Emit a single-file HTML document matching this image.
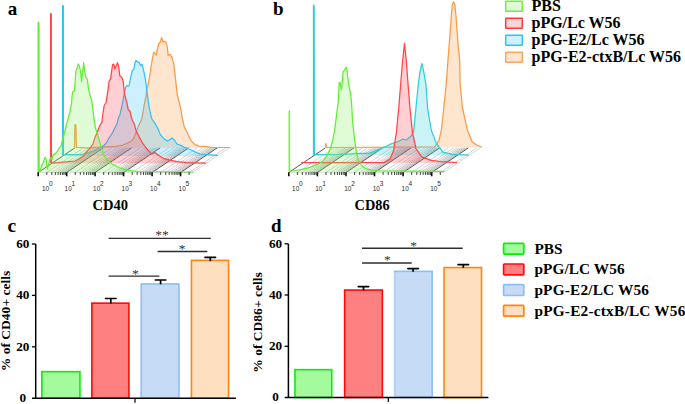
<!DOCTYPE html><html><head><meta charset="utf-8"><style>html,body{margin:0;padding:0;background:#fff;}svg{display:block;}</style></head><body>
<svg width="685" height="404" viewBox="0 0 685 404">
<rect width="685" height="404" fill="#fff"/>
<polygon points="38.2,172.5 192.5,172.5 229.1,147.9 74.8,147.9" fill="#ffffff" stroke="none"/>
<line x1="38.2" y1="172.5" x2="74.8" y2="147.9" stroke="#444" stroke-width="0.9"/>
<line x1="46.8" y1="172.5" x2="83.4" y2="147.9" stroke="#bdbdbd" stroke-width="0.7"/>
<line x1="51.8" y1="172.5" x2="88.4" y2="147.9" stroke="#bdbdbd" stroke-width="0.7"/>
<line x1="55.3" y1="172.5" x2="91.9" y2="147.9" stroke="#bdbdbd" stroke-width="0.7"/>
<line x1="58.1" y1="172.5" x2="94.7" y2="147.9" stroke="#a8a8a8" stroke-width="0.7"/>
<line x1="60.4" y1="172.5" x2="97.0" y2="147.9" stroke="#a8a8a8" stroke-width="0.7"/>
<line x1="62.3" y1="172.5" x2="98.9" y2="147.9" stroke="#a8a8a8" stroke-width="0.7"/>
<line x1="63.9" y1="172.5" x2="100.5" y2="147.9" stroke="#a8a8a8" stroke-width="0.7"/>
<line x1="65.4" y1="172.5" x2="102.0" y2="147.9" stroke="#a8a8a8" stroke-width="0.7"/>
<line x1="66.7" y1="172.5" x2="103.3" y2="147.9" stroke="#444" stroke-width="0.9"/>
<line x1="75.2" y1="172.5" x2="111.8" y2="147.9" stroke="#bdbdbd" stroke-width="0.7"/>
<line x1="80.3" y1="172.5" x2="116.9" y2="147.9" stroke="#bdbdbd" stroke-width="0.7"/>
<line x1="83.8" y1="172.5" x2="120.4" y2="147.9" stroke="#bdbdbd" stroke-width="0.7"/>
<line x1="86.6" y1="172.5" x2="123.2" y2="147.9" stroke="#a8a8a8" stroke-width="0.7"/>
<line x1="88.8" y1="172.5" x2="125.4" y2="147.9" stroke="#a8a8a8" stroke-width="0.7"/>
<line x1="90.7" y1="172.5" x2="127.3" y2="147.9" stroke="#a8a8a8" stroke-width="0.7"/>
<line x1="92.4" y1="172.5" x2="129.0" y2="147.9" stroke="#a8a8a8" stroke-width="0.7"/>
<line x1="93.8" y1="172.5" x2="130.4" y2="147.9" stroke="#a8a8a8" stroke-width="0.7"/>
<line x1="95.1" y1="172.5" x2="131.7" y2="147.9" stroke="#444" stroke-width="0.9"/>
<line x1="103.7" y1="172.5" x2="140.3" y2="147.9" stroke="#bdbdbd" stroke-width="0.7"/>
<line x1="108.7" y1="172.5" x2="145.3" y2="147.9" stroke="#bdbdbd" stroke-width="0.7"/>
<line x1="112.3" y1="172.5" x2="148.9" y2="147.9" stroke="#bdbdbd" stroke-width="0.7"/>
<line x1="115.0" y1="172.5" x2="151.6" y2="147.9" stroke="#a8a8a8" stroke-width="0.7"/>
<line x1="117.3" y1="172.5" x2="153.9" y2="147.9" stroke="#a8a8a8" stroke-width="0.7"/>
<line x1="119.2" y1="172.5" x2="155.8" y2="147.9" stroke="#a8a8a8" stroke-width="0.7"/>
<line x1="120.9" y1="172.5" x2="157.5" y2="147.9" stroke="#a8a8a8" stroke-width="0.7"/>
<line x1="122.3" y1="172.5" x2="158.9" y2="147.9" stroke="#a8a8a8" stroke-width="0.7"/>
<line x1="123.6" y1="172.5" x2="160.2" y2="147.9" stroke="#444" stroke-width="0.9"/>
<line x1="132.2" y1="172.5" x2="168.8" y2="147.9" stroke="#bdbdbd" stroke-width="0.7"/>
<line x1="137.2" y1="172.5" x2="173.8" y2="147.9" stroke="#bdbdbd" stroke-width="0.7"/>
<line x1="140.8" y1="172.5" x2="177.4" y2="147.9" stroke="#bdbdbd" stroke-width="0.7"/>
<line x1="143.5" y1="172.5" x2="180.1" y2="147.9" stroke="#a8a8a8" stroke-width="0.7"/>
<line x1="145.8" y1="172.5" x2="182.4" y2="147.9" stroke="#a8a8a8" stroke-width="0.7"/>
<line x1="147.7" y1="172.5" x2="184.3" y2="147.9" stroke="#a8a8a8" stroke-width="0.7"/>
<line x1="149.3" y1="172.5" x2="185.9" y2="147.9" stroke="#a8a8a8" stroke-width="0.7"/>
<line x1="150.8" y1="172.5" x2="187.4" y2="147.9" stroke="#a8a8a8" stroke-width="0.7"/>
<line x1="152.1" y1="172.5" x2="188.7" y2="147.9" stroke="#444" stroke-width="0.9"/>
<line x1="160.7" y1="172.5" x2="197.3" y2="147.9" stroke="#bdbdbd" stroke-width="0.7"/>
<line x1="165.7" y1="172.5" x2="202.3" y2="147.9" stroke="#bdbdbd" stroke-width="0.7"/>
<line x1="169.2" y1="172.5" x2="205.8" y2="147.9" stroke="#bdbdbd" stroke-width="0.7"/>
<line x1="172.0" y1="172.5" x2="208.6" y2="147.9" stroke="#a8a8a8" stroke-width="0.7"/>
<line x1="174.2" y1="172.5" x2="210.8" y2="147.9" stroke="#a8a8a8" stroke-width="0.7"/>
<line x1="176.1" y1="172.5" x2="212.7" y2="147.9" stroke="#a8a8a8" stroke-width="0.7"/>
<line x1="177.8" y1="172.5" x2="214.4" y2="147.9" stroke="#a8a8a8" stroke-width="0.7"/>
<line x1="179.2" y1="172.5" x2="215.8" y2="147.9" stroke="#a8a8a8" stroke-width="0.7"/>
<line x1="180.6" y1="172.5" x2="217.2" y2="147.9" stroke="#444" stroke-width="0.9"/>
<line x1="189.1" y1="172.5" x2="225.7" y2="147.9" stroke="#bdbdbd" stroke-width="0.7"/>
<line x1="192.5" y1="172.5" x2="229.1" y2="147.9" stroke="#bbb" stroke-width="0.6"/>
<polygon points="74.5,147.6 74.9,124.5 75.9,125.5 76.5,147.4 88.0,147.9 115.8,146.4 120.0,145.7 123.0,145.0 127.4,143.2 131.1,141.3 134.1,137.5 136.3,131.6 138.6,125.7 141.5,119.7 143.0,112.3 144.5,103.4 146.0,95.9 146.6,90.0 147.8,85.9 149.7,76.0 151.2,66.0 152.5,58.0 153.8,52.2 156.1,55.1 157.8,47.3 159.0,43.0 160.4,42.1 161.6,37.3 163.0,42.1 164.2,41.3 165.9,41.8 167.3,47.3 168.2,55.6 169.9,54.3 172.2,57.7 173.9,64.7 175.1,75.1 176.5,88.0 177.3,95.0 179.1,101.9 180.8,108.9 182.2,117.5 184.3,127.0 186.3,130.5 188.6,135.7 191.2,140.9 194.6,144.4 199.0,146.1 206.8,146.6 210.2,147.3 230.2,147.5 230.2,147.9 74.5,147.9" fill="rgba(252,160,80,0.28)" stroke="none"/>
<polyline points="74.5,147.6 74.9,124.5 75.9,125.5 76.5,147.4 88.0,147.9 115.8,146.4 120.0,145.7 123.0,145.0 127.4,143.2 131.1,141.3 134.1,137.5 136.3,131.6 138.6,125.7 141.5,119.7 143.0,112.3 144.5,103.4 146.0,95.9 146.6,90.0 147.8,85.9 149.7,76.0 151.2,66.0 152.5,58.0 153.8,52.2 156.1,55.1 157.8,47.3 159.0,43.0 160.4,42.1 161.6,37.3 163.0,42.1 164.2,41.3 165.9,41.8 167.3,47.3 168.2,55.6 169.9,54.3 172.2,57.7 173.9,64.7 175.1,75.1 176.5,88.0 177.3,95.0 179.1,101.9 180.8,108.9 182.2,117.5 184.3,127.0 186.3,130.5 188.6,135.7 191.2,140.9 194.6,144.4 199.0,146.1 206.8,146.6 210.2,147.3 230.2,147.5" fill="none" stroke="#fa9a46" stroke-width="1.25" stroke-linejoin="round"/>
<polygon points="62.7,155.2 62.7,5.3 63.4,154.6 73.0,154.6 80.0,154.6 83.4,154.0 88.0,152.9 93.6,151.0 99.1,148.3 103.8,145.5 106.6,142.7 108.4,139.0 110.3,136.2 112.1,133.4 114.9,127.8 116.8,124.1 118.6,117.5 120.0,114.5 121.5,107.8 123.0,100.4 124.5,92.0 125.5,88.0 126.5,85.5 127.9,86.2 129.0,85.9 130.5,78.5 132.3,70.4 133.9,69.2 134.8,63.6 136.0,60.5 137.3,61.8 139.1,62.4 140.4,65.5 141.9,64.2 142.9,67.3 144.1,72.9 145.3,78.5 146.6,88.4 147.5,95.5 149.0,106.3 150.5,113.8 151.9,119.0 154.7,122.8 157.9,128.6 160.5,135.0 163.4,137.9 167.1,141.0 168.9,140.3 172.0,137.9 174.5,140.3 177.0,144.0 180.7,145.3 184.4,147.4 189.3,149.0 194.3,151.5 200.0,154.0 210.2,154.8 218.0,155.3 218.0,155.9 62.7,155.9" fill="rgba(51,195,251,0.25)" stroke="none"/>
<polyline points="62.7,155.2 62.7,5.3 63.4,154.6 73.0,154.6 80.0,154.6 83.4,154.0 88.0,152.9 93.6,151.0 99.1,148.3 103.8,145.5 106.6,142.7 108.4,139.0 110.3,136.2 112.1,133.4 114.9,127.8 116.8,124.1 118.6,117.5 120.0,114.5 121.5,107.8 123.0,100.4 124.5,92.0 125.5,88.0 126.5,85.5 127.9,86.2 129.0,85.9 130.5,78.5 132.3,70.4 133.9,69.2 134.8,63.6 136.0,60.5 137.3,61.8 139.1,62.4 140.4,65.5 141.9,64.2 142.9,67.3 144.1,72.9 145.3,78.5 146.6,88.4 147.5,95.5 149.0,106.3 150.5,113.8 151.9,119.0 154.7,122.8 157.9,128.6 160.5,135.0 163.4,137.9 167.1,141.0 168.9,140.3 172.0,137.9 174.5,140.3 177.0,144.0 180.7,145.3 184.4,147.4 189.3,149.0 194.3,151.5 200.0,154.0 210.2,154.8 218.0,155.3" fill="none" stroke="#2cc4fa" stroke-width="1.25" stroke-linejoin="round"/>
<line x1="63" y1="155" x2="63" y2="5.6" stroke="#2cc4fa" stroke-width="1.9"/>
<polygon points="50.8,163.1 50.8,13.4 51.5,163.0 54.0,163.1 60.5,162.3 68.7,161.6 75.2,161.0 80.0,158.5 83.4,155.8 86.0,152.5 88.0,150.1 89.9,148.3 92.6,144.6 95.1,137.1 97.3,132.5 99.5,126.0 101.9,122.3 102.7,115.0 104.2,105.5 106.1,102.5 107.9,90.7 109.1,81.0 110.6,78.8 111.6,71.3 112.6,64.7 113.8,64.2 114.9,69.1 116.1,66.1 117.5,62.7 118.6,66.1 119.8,75.8 121.6,77.3 123.0,80.3 124.2,90.7 125.2,97.0 126.7,101.9 128.2,109.3 130.1,111.5 131.1,116.0 132.6,121.2 134.1,123.4 136.2,131.1 139.3,137.0 142.4,142.8 145.5,147.0 148.5,150.8 151.6,153.9 153.5,153.2 155.3,152.7 158.4,155.2 163.4,158.3 169.6,160.1 177.0,161.7 186.9,162.6 205.9,163.2 205.9,163.3 50.8,163.3" fill="rgba(255,70,90,0.26)" stroke="none"/>
<polyline points="50.8,163.1 50.8,13.4 51.5,163.0 54.0,163.1 60.5,162.3 68.7,161.6 75.2,161.0 80.0,158.5 83.4,155.8 86.0,152.5 88.0,150.1 89.9,148.3 92.6,144.6 95.1,137.1 97.3,132.5 99.5,126.0 101.9,122.3 102.7,115.0 104.2,105.5 106.1,102.5 107.9,90.7 109.1,81.0 110.6,78.8 111.6,71.3 112.6,64.7 113.8,64.2 114.9,69.1 116.1,66.1 117.5,62.7 118.6,66.1 119.8,75.8 121.6,77.3 123.0,80.3 124.2,90.7 125.2,97.0 126.7,101.9 128.2,109.3 130.1,111.5 131.1,116.0 132.6,121.2 134.1,123.4 136.2,131.1 139.3,137.0 142.4,142.8 145.5,147.0 148.5,150.8 151.6,153.9 153.5,153.2 155.3,152.7 158.4,155.2 163.4,158.3 169.6,160.1 177.0,161.7 186.9,162.6 205.9,163.2" fill="none" stroke="#ff4646" stroke-width="1.25" stroke-linejoin="round"/>
<line x1="50.9" y1="163" x2="50.9" y2="13.7" stroke="#ff4646" stroke-width="1.9"/>
<polygon points="38.4,172.3 38.4,22.0 38.9,170.5 40.1,170.5 41.7,165.6 43.4,162.3 45.0,157.4 46.1,159.0 47.4,168.8 48.7,163.9 50.4,157.4 52.0,159.0 53.2,154.9 54.8,154.1 56.4,152.5 58.1,150.0 59.7,147.6 61.3,145.1 62.5,139.4 64.1,134.5 65.7,128.0 67.4,121.4 68.7,116.5 70.3,110.0 71.3,105.0 72.5,92.1 74.4,90.9 75.0,83.5 75.9,71.1 77.1,68.0 78.3,63.9 79.6,66.8 80.6,72.3 81.6,81.6 82.7,71.1 83.7,62.7 84.5,69.9 85.8,77.3 87.4,79.8 88.6,89.7 90.7,97.7 91.7,100.0 93.6,114.9 95.4,127.8 98.2,137.1 101.0,146.4 103.2,153.8 106.6,159.4 112.1,164.0 119.6,167.8 127.9,170.2 138.0,171.5 193.5,172.2 193.5,172.4 38.4,172.4" fill="rgba(131,243,91,0.25)" stroke="none"/>
<polyline points="38.4,172.3 38.4,22.0 38.9,170.5 40.1,170.5 41.7,165.6 43.4,162.3 45.0,157.4 46.1,159.0 47.4,168.8 48.7,163.9 50.4,157.4 52.0,159.0 53.2,154.9 54.8,154.1 56.4,152.5 58.1,150.0 59.7,147.6 61.3,145.1 62.5,139.4 64.1,134.5 65.7,128.0 67.4,121.4 68.7,116.5 70.3,110.0 71.3,105.0 72.5,92.1 74.4,90.9 75.0,83.5 75.9,71.1 77.1,68.0 78.3,63.9 79.6,66.8 80.6,72.3 81.6,81.6 82.7,71.1 83.7,62.7 84.5,69.9 85.8,77.3 87.4,79.8 88.6,89.7 90.7,97.7 91.7,100.0 93.6,114.9 95.4,127.8 98.2,137.1 101.0,146.4 103.2,153.8 106.6,159.4 112.1,164.0 119.6,167.8 127.9,170.2 138.0,171.5 193.5,172.2" fill="none" stroke="#62ee34" stroke-width="1.25" stroke-linejoin="round"/>
<line x1="38.6" y1="172" x2="38.6" y2="22.3" stroke="#62ee34" stroke-width="1.9"/>
<line x1="37.7" y1="172.7" x2="192.5" y2="172.7" stroke="#bbb" stroke-width="0.5"/>
<line x1="38.2" y1="172.2" x2="38.2" y2="176.3" stroke="#111" stroke-width="1.6"/>
<line x1="46.8" y1="172.2" x2="46.8" y2="174.9" stroke="#222" stroke-width="0.9"/>
<line x1="51.8" y1="172.2" x2="51.8" y2="174.9" stroke="#222" stroke-width="0.9"/>
<line x1="55.3" y1="172.2" x2="55.3" y2="174.9" stroke="#222" stroke-width="0.9"/>
<line x1="58.1" y1="172.2" x2="58.1" y2="174.9" stroke="#222" stroke-width="0.9"/>
<line x1="60.4" y1="172.2" x2="60.4" y2="174.9" stroke="#222" stroke-width="0.9"/>
<line x1="62.3" y1="172.2" x2="62.3" y2="174.9" stroke="#222" stroke-width="0.9"/>
<line x1="63.9" y1="172.2" x2="63.9" y2="174.9" stroke="#222" stroke-width="0.9"/>
<line x1="65.4" y1="172.2" x2="65.4" y2="174.9" stroke="#222" stroke-width="0.9"/>
<line x1="66.7" y1="172.2" x2="66.7" y2="176.3" stroke="#111" stroke-width="1.6"/>
<line x1="75.2" y1="172.2" x2="75.2" y2="174.9" stroke="#222" stroke-width="0.9"/>
<line x1="80.3" y1="172.2" x2="80.3" y2="174.9" stroke="#222" stroke-width="0.9"/>
<line x1="83.8" y1="172.2" x2="83.8" y2="174.9" stroke="#222" stroke-width="0.9"/>
<line x1="86.6" y1="172.2" x2="86.6" y2="174.9" stroke="#222" stroke-width="0.9"/>
<line x1="88.8" y1="172.2" x2="88.8" y2="174.9" stroke="#222" stroke-width="0.9"/>
<line x1="90.7" y1="172.2" x2="90.7" y2="174.9" stroke="#222" stroke-width="0.9"/>
<line x1="92.4" y1="172.2" x2="92.4" y2="174.9" stroke="#222" stroke-width="0.9"/>
<line x1="93.8" y1="172.2" x2="93.8" y2="174.9" stroke="#222" stroke-width="0.9"/>
<line x1="95.1" y1="172.2" x2="95.1" y2="176.3" stroke="#111" stroke-width="1.6"/>
<line x1="103.7" y1="172.2" x2="103.7" y2="174.9" stroke="#222" stroke-width="0.9"/>
<line x1="108.7" y1="172.2" x2="108.7" y2="174.9" stroke="#222" stroke-width="0.9"/>
<line x1="112.3" y1="172.2" x2="112.3" y2="174.9" stroke="#222" stroke-width="0.9"/>
<line x1="115.0" y1="172.2" x2="115.0" y2="174.9" stroke="#222" stroke-width="0.9"/>
<line x1="117.3" y1="172.2" x2="117.3" y2="174.9" stroke="#222" stroke-width="0.9"/>
<line x1="119.2" y1="172.2" x2="119.2" y2="174.9" stroke="#222" stroke-width="0.9"/>
<line x1="120.9" y1="172.2" x2="120.9" y2="174.9" stroke="#222" stroke-width="0.9"/>
<line x1="122.3" y1="172.2" x2="122.3" y2="174.9" stroke="#222" stroke-width="0.9"/>
<line x1="123.6" y1="172.2" x2="123.6" y2="176.3" stroke="#111" stroke-width="1.6"/>
<line x1="132.2" y1="172.2" x2="132.2" y2="174.9" stroke="#222" stroke-width="0.9"/>
<line x1="137.2" y1="172.2" x2="137.2" y2="174.9" stroke="#222" stroke-width="0.9"/>
<line x1="140.8" y1="172.2" x2="140.8" y2="174.9" stroke="#222" stroke-width="0.9"/>
<line x1="143.5" y1="172.2" x2="143.5" y2="174.9" stroke="#222" stroke-width="0.9"/>
<line x1="145.8" y1="172.2" x2="145.8" y2="174.9" stroke="#222" stroke-width="0.9"/>
<line x1="147.7" y1="172.2" x2="147.7" y2="174.9" stroke="#222" stroke-width="0.9"/>
<line x1="149.3" y1="172.2" x2="149.3" y2="174.9" stroke="#222" stroke-width="0.9"/>
<line x1="150.8" y1="172.2" x2="150.8" y2="174.9" stroke="#222" stroke-width="0.9"/>
<line x1="152.1" y1="172.2" x2="152.1" y2="176.3" stroke="#111" stroke-width="1.6"/>
<line x1="160.7" y1="172.2" x2="160.7" y2="174.9" stroke="#222" stroke-width="0.9"/>
<line x1="165.7" y1="172.2" x2="165.7" y2="174.9" stroke="#222" stroke-width="0.9"/>
<line x1="169.2" y1="172.2" x2="169.2" y2="174.9" stroke="#222" stroke-width="0.9"/>
<line x1="172.0" y1="172.2" x2="172.0" y2="174.9" stroke="#222" stroke-width="0.9"/>
<line x1="174.2" y1="172.2" x2="174.2" y2="174.9" stroke="#222" stroke-width="0.9"/>
<line x1="176.1" y1="172.2" x2="176.1" y2="174.9" stroke="#222" stroke-width="0.9"/>
<line x1="177.8" y1="172.2" x2="177.8" y2="174.9" stroke="#222" stroke-width="0.9"/>
<line x1="179.2" y1="172.2" x2="179.2" y2="174.9" stroke="#222" stroke-width="0.9"/>
<line x1="180.6" y1="172.2" x2="180.6" y2="176.3" stroke="#111" stroke-width="1.6"/>
<line x1="189.1" y1="172.2" x2="189.1" y2="174.9" stroke="#222" stroke-width="0.9"/>
<text x="42.0" y="190.6" font-family="Liberation Sans" font-size="6.4" fill="#2a2a2a">10<tspan dy="-4.8" dx="-0.1" font-size="6.5">0</tspan></text>
<text x="64.6" y="190.6" font-family="Liberation Sans" font-size="6.4" fill="#2a2a2a">10<tspan dy="-4.8" dx="-0.1" font-size="6.5">1</tspan></text>
<text x="93.1" y="190.6" font-family="Liberation Sans" font-size="6.4" fill="#2a2a2a">10<tspan dy="-4.8" dx="-0.1" font-size="6.5">2</tspan></text>
<text x="121.6" y="190.6" font-family="Liberation Sans" font-size="6.4" fill="#2a2a2a">10<tspan dy="-4.8" dx="-0.1" font-size="6.5">3</tspan></text>
<text x="150.1" y="190.6" font-family="Liberation Sans" font-size="6.4" fill="#2a2a2a">10<tspan dy="-4.8" dx="-0.1" font-size="6.5">4</tspan></text>
<text x="178.6" y="190.6" font-family="Liberation Sans" font-size="6.4" fill="#2a2a2a">10<tspan dy="-4.8" dx="-0.1" font-size="6.5">5</tspan></text>
<text x="92.5" y="210" font-family="Liberation Serif" font-weight="bold" font-size="15" textLength="35.6" lengthAdjust="spacingAndGlyphs" fill="#000">CD40</text>
<text x="7.7" y="15" font-family="Liberation Serif" font-weight="bold" font-size="19" fill="#000">a</text>
<polygon points="288.8,172.5 443.6,172.5 480.2,147.9 325.4,147.9" fill="#ffffff" stroke="none"/>
<line x1="288.8" y1="172.5" x2="325.4" y2="147.9" stroke="#444" stroke-width="0.9"/>
<line x1="297.4" y1="172.5" x2="334.0" y2="147.9" stroke="#bdbdbd" stroke-width="0.7"/>
<line x1="302.4" y1="172.5" x2="339.0" y2="147.9" stroke="#bdbdbd" stroke-width="0.7"/>
<line x1="306.0" y1="172.5" x2="342.6" y2="147.9" stroke="#bdbdbd" stroke-width="0.7"/>
<line x1="308.8" y1="172.5" x2="345.4" y2="147.9" stroke="#a8a8a8" stroke-width="0.7"/>
<line x1="311.0" y1="172.5" x2="347.6" y2="147.9" stroke="#a8a8a8" stroke-width="0.7"/>
<line x1="313.0" y1="172.5" x2="349.6" y2="147.9" stroke="#a8a8a8" stroke-width="0.7"/>
<line x1="314.6" y1="172.5" x2="351.2" y2="147.9" stroke="#a8a8a8" stroke-width="0.7"/>
<line x1="316.1" y1="172.5" x2="352.7" y2="147.9" stroke="#a8a8a8" stroke-width="0.7"/>
<line x1="317.4" y1="172.5" x2="354.0" y2="147.9" stroke="#444" stroke-width="0.9"/>
<line x1="326.0" y1="172.5" x2="362.6" y2="147.9" stroke="#bdbdbd" stroke-width="0.7"/>
<line x1="331.0" y1="172.5" x2="367.6" y2="147.9" stroke="#bdbdbd" stroke-width="0.7"/>
<line x1="334.6" y1="172.5" x2="371.2" y2="147.9" stroke="#bdbdbd" stroke-width="0.7"/>
<line x1="337.4" y1="172.5" x2="374.0" y2="147.9" stroke="#a8a8a8" stroke-width="0.7"/>
<line x1="339.6" y1="172.5" x2="376.2" y2="147.9" stroke="#a8a8a8" stroke-width="0.7"/>
<line x1="341.5" y1="172.5" x2="378.1" y2="147.9" stroke="#a8a8a8" stroke-width="0.7"/>
<line x1="343.2" y1="172.5" x2="379.8" y2="147.9" stroke="#a8a8a8" stroke-width="0.7"/>
<line x1="344.7" y1="172.5" x2="381.3" y2="147.9" stroke="#a8a8a8" stroke-width="0.7"/>
<line x1="346.0" y1="172.5" x2="382.6" y2="147.9" stroke="#444" stroke-width="0.9"/>
<line x1="354.6" y1="172.5" x2="391.2" y2="147.9" stroke="#bdbdbd" stroke-width="0.7"/>
<line x1="359.6" y1="172.5" x2="396.2" y2="147.9" stroke="#bdbdbd" stroke-width="0.7"/>
<line x1="363.2" y1="172.5" x2="399.8" y2="147.9" stroke="#bdbdbd" stroke-width="0.7"/>
<line x1="365.9" y1="172.5" x2="402.5" y2="147.9" stroke="#a8a8a8" stroke-width="0.7"/>
<line x1="368.2" y1="172.5" x2="404.8" y2="147.9" stroke="#a8a8a8" stroke-width="0.7"/>
<line x1="370.1" y1="172.5" x2="406.7" y2="147.9" stroke="#a8a8a8" stroke-width="0.7"/>
<line x1="371.8" y1="172.5" x2="408.4" y2="147.9" stroke="#a8a8a8" stroke-width="0.7"/>
<line x1="373.2" y1="172.5" x2="409.8" y2="147.9" stroke="#a8a8a8" stroke-width="0.7"/>
<line x1="374.5" y1="172.5" x2="411.1" y2="147.9" stroke="#444" stroke-width="0.9"/>
<line x1="383.1" y1="172.5" x2="419.7" y2="147.9" stroke="#bdbdbd" stroke-width="0.7"/>
<line x1="388.2" y1="172.5" x2="424.8" y2="147.9" stroke="#bdbdbd" stroke-width="0.7"/>
<line x1="391.7" y1="172.5" x2="428.3" y2="147.9" stroke="#bdbdbd" stroke-width="0.7"/>
<line x1="394.5" y1="172.5" x2="431.1" y2="147.9" stroke="#a8a8a8" stroke-width="0.7"/>
<line x1="396.8" y1="172.5" x2="433.4" y2="147.9" stroke="#a8a8a8" stroke-width="0.7"/>
<line x1="398.7" y1="172.5" x2="435.3" y2="147.9" stroke="#a8a8a8" stroke-width="0.7"/>
<line x1="400.4" y1="172.5" x2="437.0" y2="147.9" stroke="#a8a8a8" stroke-width="0.7"/>
<line x1="401.8" y1="172.5" x2="438.4" y2="147.9" stroke="#a8a8a8" stroke-width="0.7"/>
<line x1="403.1" y1="172.5" x2="439.7" y2="147.9" stroke="#444" stroke-width="0.9"/>
<line x1="411.7" y1="172.5" x2="448.3" y2="147.9" stroke="#bdbdbd" stroke-width="0.7"/>
<line x1="416.8" y1="172.5" x2="453.4" y2="147.9" stroke="#bdbdbd" stroke-width="0.7"/>
<line x1="420.3" y1="172.5" x2="456.9" y2="147.9" stroke="#bdbdbd" stroke-width="0.7"/>
<line x1="423.1" y1="172.5" x2="459.7" y2="147.9" stroke="#a8a8a8" stroke-width="0.7"/>
<line x1="425.4" y1="172.5" x2="462.0" y2="147.9" stroke="#a8a8a8" stroke-width="0.7"/>
<line x1="427.3" y1="172.5" x2="463.9" y2="147.9" stroke="#a8a8a8" stroke-width="0.7"/>
<line x1="428.9" y1="172.5" x2="465.5" y2="147.9" stroke="#a8a8a8" stroke-width="0.7"/>
<line x1="430.4" y1="172.5" x2="467.0" y2="147.9" stroke="#a8a8a8" stroke-width="0.7"/>
<line x1="431.7" y1="172.5" x2="468.3" y2="147.9" stroke="#444" stroke-width="0.9"/>
<line x1="440.3" y1="172.5" x2="476.9" y2="147.9" stroke="#bdbdbd" stroke-width="0.7"/>
<line x1="443.6" y1="172.5" x2="480.2" y2="147.9" stroke="#bbb" stroke-width="0.6"/>
<polygon points="325.7,147.5 325.7,143.5 326.6,147.5 434.7,146.8 439.0,140.3 441.4,129.7 443.7,108.5 446.1,85.0 448.0,60.0 449.2,44.6 450.4,29.7 451.4,14.9 452.4,4.5 453.6,1.8 454.8,4.5 455.9,14.9 457.0,29.7 458.1,44.6 459.6,60.0 460.2,85.0 462.6,108.5 467.3,129.7 472.0,141.5 476.7,145.0 481.8,147.2 481.8,147.5 325.7,147.5" fill="rgba(252,160,80,0.28)" stroke="none"/>
<polyline points="325.7,147.5 325.7,143.5 326.6,147.5 434.7,146.8 439.0,140.3 441.4,129.7 443.7,108.5 446.1,85.0 448.0,60.0 449.2,44.6 450.4,29.7 451.4,14.9 452.4,4.5 453.6,1.8 454.8,4.5 455.9,14.9 457.0,29.7 458.1,44.6 459.6,60.0 460.2,85.0 462.6,108.5 467.3,129.7 472.0,141.5 476.7,145.0 481.8,147.2" fill="none" stroke="#fa9a46" stroke-width="1.25" stroke-linejoin="round"/>
<polygon points="313.7,154.8 313.7,5.0 314.4,154.6 340.0,154.4 370.0,153.2 384.1,147.4 391.2,143.8 398.2,141.5 403.0,139.0 406.0,140.0 408.8,138.0 411.0,136.0 413.5,132.0 415.9,108.5 418.2,85.0 420.0,72.0 421.9,63.5 423.8,72.0 426.0,85.0 427.6,108.5 431.2,129.7 435.9,142.6 442.9,152.1 452.4,154.4 468.8,155.1 468.8,155.2 313.7,155.2" fill="rgba(50,210,215,0.26)" stroke="none"/>
<polyline points="313.7,154.8 313.7,5.0 314.4,154.6 340.0,154.4 370.0,153.2 384.1,147.4 391.2,143.8 398.2,141.5 403.0,139.0 406.0,140.0 408.8,138.0 411.0,136.0 413.5,132.0 415.9,108.5 418.2,85.0 420.0,72.0 421.9,63.5 423.8,72.0 426.0,85.0 427.6,108.5 431.2,129.7 435.9,142.6 442.9,152.1 452.4,154.4 468.8,155.1" fill="none" stroke="#2ed0d6" stroke-width="1.25" stroke-linejoin="round"/>
<line x1="313.8" y1="154.6" x2="313.8" y2="5.3" stroke="#2ed0d6" stroke-width="1.9"/>
<polygon points="301.2,162.6 384.0,162.6 390.0,159.1 393.5,150.9 396.4,132.0 398.7,108.5 400.6,85.0 402.5,62.0 404.5,43.4 406.4,62.0 408.1,85.0 410.0,108.5 412.4,132.0 415.9,148.5 421.8,156.8 431.2,160.3 440.6,161.5 457.0,162.6 457.0,162.8 301.2,162.8" fill="rgba(255,70,90,0.26)" stroke="none"/>
<polyline points="301.2,162.6 384.0,162.6 390.0,159.1 393.5,150.9 396.4,132.0 398.7,108.5 400.6,85.0 402.5,62.0 404.5,43.4 406.4,62.0 408.1,85.0 410.0,108.5 412.4,132.0 415.9,148.5 421.8,156.8 431.2,160.3 440.6,161.5 457.0,162.6" fill="none" stroke="#ff4646" stroke-width="1.25" stroke-linejoin="round"/>
<polygon points="289.4,171.6 289.4,110.8 289.5,171.3 295.0,170.5 302.0,169.3 309.9,167.3 317.8,164.3 322.8,161.3 326.7,156.4 329.7,150.4 332.7,140.5 334.7,129.7 336.6,114.8 337.8,105.0 338.4,100.0 339.1,82.8 340.0,82.3 341.4,89.8 342.4,80.9 343.1,71.4 344.3,70.5 345.2,68.6 346.2,67.2 346.9,69.5 347.6,76.2 349.0,85.6 350.4,93.1 351.3,100.0 352.0,110.0 352.5,120.7 354.5,138.6 356.4,152.4 358.4,160.3 361.4,165.3 365.3,168.3 371.3,170.2 380.0,170.8 444.4,171.4 444.4,172.2 289.4,172.2" fill="rgba(131,243,91,0.25)" stroke="none"/>
<polyline points="289.4,171.6 289.4,110.8 289.5,171.3 295.0,170.5 302.0,169.3 309.9,167.3 317.8,164.3 322.8,161.3 326.7,156.4 329.7,150.4 332.7,140.5 334.7,129.7 336.6,114.8 337.8,105.0 338.4,100.0 339.1,82.8 340.0,82.3 341.4,89.8 342.4,80.9 343.1,71.4 344.3,70.5 345.2,68.6 346.2,67.2 346.9,69.5 347.6,76.2 349.0,85.6 350.4,93.1 351.3,100.0 352.0,110.0 352.5,120.7 354.5,138.6 356.4,152.4 358.4,160.3 361.4,165.3 365.3,168.3 371.3,170.2 380.0,170.8 444.4,171.4" fill="none" stroke="#62ee34" stroke-width="1.25" stroke-linejoin="round"/>
<line x1="289.4" y1="171.5" x2="289.4" y2="110.8" stroke="#80ec40" stroke-width="1.4"/>
<line x1="288.3" y1="172.7" x2="443.6" y2="172.7" stroke="#bbb" stroke-width="0.5"/>
<line x1="288.8" y1="172.2" x2="288.8" y2="176.3" stroke="#111" stroke-width="1.6"/>
<line x1="297.4" y1="172.2" x2="297.4" y2="174.9" stroke="#222" stroke-width="0.9"/>
<line x1="302.4" y1="172.2" x2="302.4" y2="174.9" stroke="#222" stroke-width="0.9"/>
<line x1="306.0" y1="172.2" x2="306.0" y2="174.9" stroke="#222" stroke-width="0.9"/>
<line x1="308.8" y1="172.2" x2="308.8" y2="174.9" stroke="#222" stroke-width="0.9"/>
<line x1="311.0" y1="172.2" x2="311.0" y2="174.9" stroke="#222" stroke-width="0.9"/>
<line x1="313.0" y1="172.2" x2="313.0" y2="174.9" stroke="#222" stroke-width="0.9"/>
<line x1="314.6" y1="172.2" x2="314.6" y2="174.9" stroke="#222" stroke-width="0.9"/>
<line x1="316.1" y1="172.2" x2="316.1" y2="174.9" stroke="#222" stroke-width="0.9"/>
<line x1="317.4" y1="172.2" x2="317.4" y2="176.3" stroke="#111" stroke-width="1.6"/>
<line x1="326.0" y1="172.2" x2="326.0" y2="174.9" stroke="#222" stroke-width="0.9"/>
<line x1="331.0" y1="172.2" x2="331.0" y2="174.9" stroke="#222" stroke-width="0.9"/>
<line x1="334.6" y1="172.2" x2="334.6" y2="174.9" stroke="#222" stroke-width="0.9"/>
<line x1="337.4" y1="172.2" x2="337.4" y2="174.9" stroke="#222" stroke-width="0.9"/>
<line x1="339.6" y1="172.2" x2="339.6" y2="174.9" stroke="#222" stroke-width="0.9"/>
<line x1="341.5" y1="172.2" x2="341.5" y2="174.9" stroke="#222" stroke-width="0.9"/>
<line x1="343.2" y1="172.2" x2="343.2" y2="174.9" stroke="#222" stroke-width="0.9"/>
<line x1="344.7" y1="172.2" x2="344.7" y2="174.9" stroke="#222" stroke-width="0.9"/>
<line x1="346.0" y1="172.2" x2="346.0" y2="176.3" stroke="#111" stroke-width="1.6"/>
<line x1="354.6" y1="172.2" x2="354.6" y2="174.9" stroke="#222" stroke-width="0.9"/>
<line x1="359.6" y1="172.2" x2="359.6" y2="174.9" stroke="#222" stroke-width="0.9"/>
<line x1="363.2" y1="172.2" x2="363.2" y2="174.9" stroke="#222" stroke-width="0.9"/>
<line x1="365.9" y1="172.2" x2="365.9" y2="174.9" stroke="#222" stroke-width="0.9"/>
<line x1="368.2" y1="172.2" x2="368.2" y2="174.9" stroke="#222" stroke-width="0.9"/>
<line x1="370.1" y1="172.2" x2="370.1" y2="174.9" stroke="#222" stroke-width="0.9"/>
<line x1="371.8" y1="172.2" x2="371.8" y2="174.9" stroke="#222" stroke-width="0.9"/>
<line x1="373.2" y1="172.2" x2="373.2" y2="174.9" stroke="#222" stroke-width="0.9"/>
<line x1="374.5" y1="172.2" x2="374.5" y2="176.3" stroke="#111" stroke-width="1.6"/>
<line x1="383.1" y1="172.2" x2="383.1" y2="174.9" stroke="#222" stroke-width="0.9"/>
<line x1="388.2" y1="172.2" x2="388.2" y2="174.9" stroke="#222" stroke-width="0.9"/>
<line x1="391.7" y1="172.2" x2="391.7" y2="174.9" stroke="#222" stroke-width="0.9"/>
<line x1="394.5" y1="172.2" x2="394.5" y2="174.9" stroke="#222" stroke-width="0.9"/>
<line x1="396.8" y1="172.2" x2="396.8" y2="174.9" stroke="#222" stroke-width="0.9"/>
<line x1="398.7" y1="172.2" x2="398.7" y2="174.9" stroke="#222" stroke-width="0.9"/>
<line x1="400.4" y1="172.2" x2="400.4" y2="174.9" stroke="#222" stroke-width="0.9"/>
<line x1="401.8" y1="172.2" x2="401.8" y2="174.9" stroke="#222" stroke-width="0.9"/>
<line x1="403.1" y1="172.2" x2="403.1" y2="176.3" stroke="#111" stroke-width="1.6"/>
<line x1="411.7" y1="172.2" x2="411.7" y2="174.9" stroke="#222" stroke-width="0.9"/>
<line x1="416.8" y1="172.2" x2="416.8" y2="174.9" stroke="#222" stroke-width="0.9"/>
<line x1="420.3" y1="172.2" x2="420.3" y2="174.9" stroke="#222" stroke-width="0.9"/>
<line x1="423.1" y1="172.2" x2="423.1" y2="174.9" stroke="#222" stroke-width="0.9"/>
<line x1="425.4" y1="172.2" x2="425.4" y2="174.9" stroke="#222" stroke-width="0.9"/>
<line x1="427.3" y1="172.2" x2="427.3" y2="174.9" stroke="#222" stroke-width="0.9"/>
<line x1="428.9" y1="172.2" x2="428.9" y2="174.9" stroke="#222" stroke-width="0.9"/>
<line x1="430.4" y1="172.2" x2="430.4" y2="174.9" stroke="#222" stroke-width="0.9"/>
<line x1="431.7" y1="172.2" x2="431.7" y2="176.3" stroke="#111" stroke-width="1.6"/>
<line x1="440.3" y1="172.2" x2="440.3" y2="174.9" stroke="#222" stroke-width="0.9"/>
<text x="292.1" y="190.6" font-family="Liberation Sans" font-size="6.4" fill="#2a2a2a">10<tspan dy="-4.8" dx="-0.1" font-size="6.5">0</tspan></text>
<text x="315.3" y="190.6" font-family="Liberation Sans" font-size="6.4" fill="#2a2a2a">10<tspan dy="-4.8" dx="-0.1" font-size="6.5">1</tspan></text>
<text x="344.3" y="190.6" font-family="Liberation Sans" font-size="6.4" fill="#2a2a2a">10<tspan dy="-4.8" dx="-0.1" font-size="6.5">2</tspan></text>
<text x="372.8" y="190.6" font-family="Liberation Sans" font-size="6.4" fill="#2a2a2a">10<tspan dy="-4.8" dx="-0.1" font-size="6.5">3</tspan></text>
<text x="401.6" y="190.6" font-family="Liberation Sans" font-size="6.4" fill="#2a2a2a">10<tspan dy="-4.8" dx="-0.1" font-size="6.5">4</tspan></text>
<text x="430.3" y="190.6" font-family="Liberation Sans" font-size="6.4" fill="#2a2a2a">10<tspan dy="-4.8" dx="-0.1" font-size="6.5">5</tspan></text>
<text x="354.6" y="210" font-family="Liberation Serif" font-weight="bold" font-size="15" textLength="35" lengthAdjust="spacingAndGlyphs" fill="#000">CD86</text>
<text x="273" y="15" font-family="Liberation Serif" font-weight="bold" font-size="19" fill="#000">b</text>
<rect x="505.7" y="1.3" width="16.6" height="10" rx="0.6" fill="#e0f9d6" stroke="#6ff03e" stroke-width="1.5"/>
<text x="531.5" y="11.2" font-family="Liberation Serif" font-weight="bold" font-size="16" fill="#000">PBS</text>
<rect x="505.7" y="18.3" width="16.6" height="10" rx="0.6" fill="#fdd2d4" stroke="#f53c3c" stroke-width="1.5"/>
<text x="531.5" y="28.2" font-family="Liberation Serif" font-weight="bold" font-size="16" fill="#000">pPG/Lc W56</text>
<rect x="505.7" y="35.3" width="16.6" height="10" rx="0.6" fill="#d0f1fd" stroke="#22c8fc" stroke-width="1.5"/>
<text x="531.5" y="45.2" font-family="Liberation Serif" font-weight="bold" font-size="16" fill="#000">pPG-E2/Lc W56</text>
<rect x="505.7" y="52.3" width="16.6" height="10" rx="0.6" fill="#fde5d0" stroke="#fca55a" stroke-width="1.5"/>
<text x="531.5" y="62.2" font-family="Liberation Serif" font-weight="bold" font-size="16" fill="#000">pPG-E2-ctxB/Lc W56</text>
<rect x="41.85" y="371.65" width="38.10" height="26.55" fill="#a3fb9d" stroke="#08ee08" stroke-width="1.6"/>
<rect x="91.85" y="303.15" width="37.10" height="95.05" fill="#ff8080" stroke="#ff0a0a" stroke-width="1.6"/>
<rect x="141.25" y="283.95" width="37.70" height="114.25" fill="#c6dcf6" stroke="#8fbdf4" stroke-width="1.6"/>
<rect x="191.45" y="260.35" width="37.10" height="137.85" fill="#fedfc0" stroke="#ff8410" stroke-width="1.6"/>
<line x1="35.7" y1="244.0" x2="35.7" y2="398.2" stroke="#000" stroke-width="1.5"/>
<line x1="32.0" y1="398.2" x2="235.8" y2="398.2" stroke="#000" stroke-width="1.5"/>
<text x="22.800000000000004" y="402.1" text-anchor="middle" font-family="Liberation Serif" font-weight="bold" font-size="13.2" fill="#000">0</text>
<line x1="31.900000000000002" y1="346.8" x2="35.7" y2="346.8" stroke="#000" stroke-width="1.3"/>
<text x="22.800000000000004" y="350.7" text-anchor="middle" font-family="Liberation Serif" font-weight="bold" font-size="13.2" fill="#000">20</text>
<line x1="31.900000000000002" y1="295.4" x2="35.7" y2="295.4" stroke="#000" stroke-width="1.3"/>
<text x="22.800000000000004" y="299.3" text-anchor="middle" font-family="Liberation Serif" font-weight="bold" font-size="13.2" fill="#000">40</text>
<line x1="31.900000000000002" y1="244.0" x2="35.7" y2="244.0" stroke="#000" stroke-width="1.3"/>
<text x="22.800000000000004" y="247.9" text-anchor="middle" font-family="Liberation Serif" font-weight="bold" font-size="13.2" fill="#000">60</text>
<line x1="135" y1="398.2" x2="135" y2="402.7" stroke="#000" stroke-width="1.2"/>
<line x1="110.8" y1="298.5" x2="110.8" y2="303.5" stroke="#000" stroke-width="1.7"/>
<line x1="105.5" y1="298.5" x2="116.1" y2="298.5" stroke="#000" stroke-width="1.6" stroke-linecap="round"/>
<line x1="160.6" y1="280" x2="160.6" y2="284.3" stroke="#000" stroke-width="1.7"/>
<line x1="155.29999999999998" y1="280" x2="165.9" y2="280" stroke="#000" stroke-width="1.6" stroke-linecap="round"/>
<line x1="210.3" y1="257.4" x2="210.3" y2="261.2" stroke="#000" stroke-width="1.7"/>
<line x1="205.0" y1="257.4" x2="215.60000000000002" y2="257.4" stroke="#000" stroke-width="1.6" stroke-linecap="round"/>
<line x1="108.5" y1="238.3" x2="210.8" y2="238.3" stroke="#2e2e2e" stroke-width="1.35"/>
<text x="162.0" y="239.1" text-anchor="middle" font-family="Liberation Serif" font-size="13.5" fill="#333">**</text>
<line x1="157.6" y1="251.5" x2="207.3" y2="251.5" stroke="#2e2e2e" stroke-width="1.35"/>
<text x="182.1" y="252.9" text-anchor="middle" font-family="Liberation Serif" font-size="13.5" fill="#333">*</text>
<line x1="108.5" y1="276.1" x2="159.4" y2="276.1" stroke="#2e2e2e" stroke-width="1.35"/>
<text x="135.4" y="277.5" text-anchor="middle" font-family="Liberation Serif" font-size="13.5" fill="#333">*</text>
<text x="7.5" y="232" font-family="Liberation Serif" font-weight="bold" font-size="19.5" fill="#000">c</text>
<text transform="translate(10,321) rotate(-90)" text-anchor="middle" font-family="Liberation Serif" font-weight="bold" font-size="12.9" textLength="100.5" lengthAdjust="spacingAndGlyphs" fill="#000">% of CD40+ cells</text>
<rect x="294.95" y="369.65" width="36.80" height="27.85" fill="#a3fb9d" stroke="#08ee08" stroke-width="1.6"/>
<rect x="344.65" y="290.05" width="37.70" height="107.45" fill="#ff8080" stroke="#ff0a0a" stroke-width="1.6"/>
<rect x="394.65" y="271.35" width="37.50" height="126.15" fill="#c6dcf6" stroke="#8fbdf4" stroke-width="1.6"/>
<rect x="444.05" y="267.55" width="37.50" height="129.95" fill="#fedfc0" stroke="#ff8410" stroke-width="1.6"/>
<line x1="288.4" y1="243.8" x2="288.4" y2="397.5" stroke="#000" stroke-width="1.5"/>
<line x1="284.7" y1="397.5" x2="488.4" y2="397.5" stroke="#000" stroke-width="1.5"/>
<text x="275.5" y="401.4" text-anchor="middle" font-family="Liberation Serif" font-weight="bold" font-size="13.2" fill="#000">0</text>
<line x1="284.59999999999997" y1="346.3" x2="288.4" y2="346.3" stroke="#000" stroke-width="1.3"/>
<text x="275.5" y="350.2" text-anchor="middle" font-family="Liberation Serif" font-weight="bold" font-size="13.2" fill="#000">20</text>
<line x1="284.59999999999997" y1="295.0" x2="288.4" y2="295.0" stroke="#000" stroke-width="1.3"/>
<text x="275.5" y="298.9" text-anchor="middle" font-family="Liberation Serif" font-weight="bold" font-size="13.2" fill="#000">40</text>
<line x1="284.59999999999997" y1="243.8" x2="288.4" y2="243.8" stroke="#000" stroke-width="1.3"/>
<text x="275.5" y="247.7" text-anchor="middle" font-family="Liberation Serif" font-weight="bold" font-size="13.2" fill="#000">60</text>
<line x1="388.3" y1="397.5" x2="388.3" y2="402.0" stroke="#000" stroke-width="1.2"/>
<line x1="363.5" y1="286.6" x2="363.5" y2="290.4" stroke="#000" stroke-width="1.7"/>
<line x1="358.2" y1="286.6" x2="368.8" y2="286.6" stroke="#000" stroke-width="1.6" stroke-linecap="round"/>
<line x1="413.1" y1="268.6" x2="413.1" y2="271.7" stroke="#000" stroke-width="1.7"/>
<line x1="407.8" y1="268.6" x2="418.40000000000003" y2="268.6" stroke="#000" stroke-width="1.6" stroke-linecap="round"/>
<line x1="463.3" y1="264.6" x2="463.3" y2="267.9" stroke="#000" stroke-width="1.7"/>
<line x1="458.0" y1="264.6" x2="468.6" y2="264.6" stroke="#000" stroke-width="1.6" stroke-linecap="round"/>
<line x1="362" y1="248.2" x2="462.7" y2="248.2" stroke="#2e2e2e" stroke-width="1.35"/>
<text x="413.7" y="249.6" text-anchor="middle" font-family="Liberation Serif" font-size="13.5" fill="#333">*</text>
<line x1="362" y1="263" x2="411.7" y2="263" stroke="#2e2e2e" stroke-width="1.35"/>
<text x="387.4" y="264.4" text-anchor="middle" font-family="Liberation Serif" font-size="13.5" fill="#333">*</text>
<line x1="394.65" y1="272" x2="394.65" y2="396.5" stroke="#c6dcf6" stroke-width="1.6" opacity="0.75"/>
<text x="271" y="232" font-family="Liberation Serif" font-weight="bold" font-size="19" fill="#000">d</text>
<text transform="translate(262.4,322.5) rotate(-90)" text-anchor="middle" font-family="Liberation Serif" font-weight="bold" font-size="12.9" textLength="100.5" lengthAdjust="spacingAndGlyphs" fill="#000">% of CD86+ cells</text>
<rect x="503.6" y="243.3" width="20.2" height="10.8" rx="0.8" fill="#a3fb9d" stroke="#08ee08" stroke-width="1.7"/>
<text x="534.4" y="253.7" font-family="Liberation Serif" font-weight="bold" font-size="15.3" fill="#000">PBS</text>
<rect x="503.6" y="264.0" width="20.2" height="10.8" rx="0.8" fill="#ff8080" stroke="#ff0a0a" stroke-width="1.7"/>
<text x="534.4" y="274.4" textLength="90.2" lengthAdjust="spacing" font-family="Liberation Serif" font-weight="bold" font-size="15.3" fill="#000">pPG/LC W56</text>
<rect x="503.6" y="284.7" width="20.2" height="10.8" rx="0.8" fill="#c6dcf6" stroke="#8fbdf4" stroke-width="1.7"/>
<text x="534.4" y="295.1" textLength="114.6" lengthAdjust="spacing" font-family="Liberation Serif" font-weight="bold" font-size="15.3" fill="#000">pPG-E2/LC W56</text>
<rect x="503.6" y="305.4" width="20.2" height="10.8" rx="0.8" fill="#fedfc0" stroke="#ff8410" stroke-width="1.7"/>
<text x="534.4" y="315.8" textLength="151" lengthAdjust="spacing" font-family="Liberation Serif" font-weight="bold" font-size="15.3" fill="#000">pPG-E2-ctxB/LC W56</text>
</svg></body></html>
